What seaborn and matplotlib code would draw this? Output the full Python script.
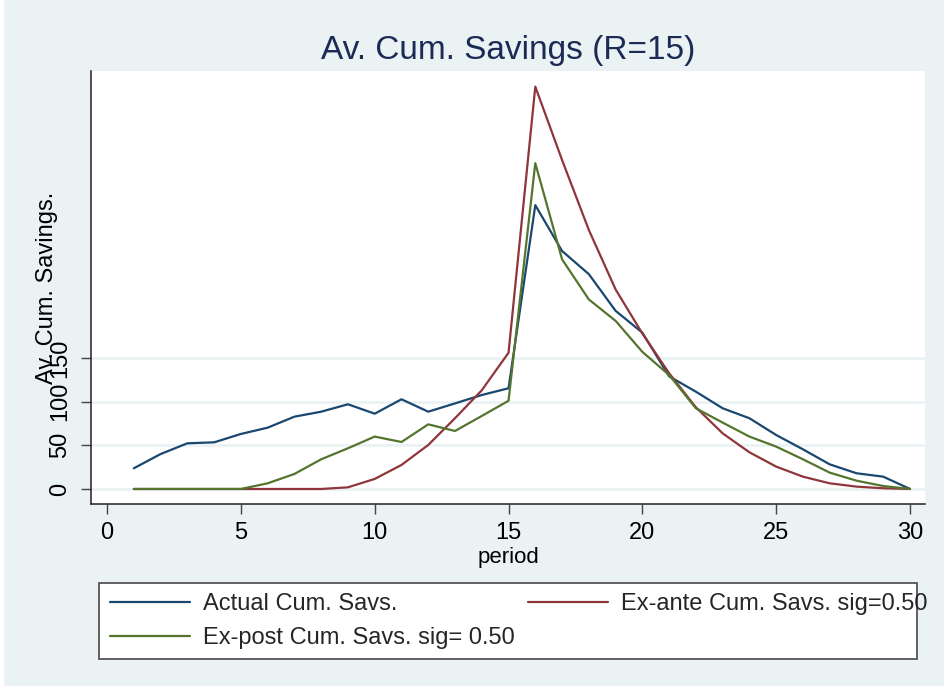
import numpy as np
import pandas as pd
import matplotlib
matplotlib.use("Agg")
import matplotlib.pyplot as plt
from matplotlib.patches import Rectangle
import seaborn as sns

# Average cumulative savings by period
period = list(range(1, 31))
actual = [23.7, 40, 52.3, 53.4, 63, 70.2, 82.8, 88.5, 97, 86.2,
          102.7, 88.5, 98, 107.6, 115.3, 325, 272.5, 246, 204, 179,
          129, 111.4, 92.4, 81, 61.8, 45.4, 28.2, 18, 14.1, 0]
ex_ante = [0, 0, 0, 0, 0, 0, 0, 0, 1.9, 11.5,
           27.5, 50.4, 81, 113, 156, 460.7, 376.7, 296.6, 228.5, 178,
           132.5, 93.5, 63.7, 42, 25.6, 14.1, 6.5, 2.7, 0.8, 0]
ex_post = [0, 0, 0, 0, 0, 6.5, 17.2, 34, 46.6, 60,
           53.8, 74, 66.4, 83.6, 101, 373, 263, 217, 192.5, 157,
           130.5, 92.4, 76, 60, 48.5, 34, 18.7, 9.5, 3.4, 0]

series_names = ["Actual Cum. Savs.",
                "Ex-ante Cum. Savs. sig=0.50",
                "Ex-post Cum. Savs. sig= 0.50"]
series_colors = ["#1A476F", "#90353B", "#55752F"]
y_ticks = [0, 50, 100, 150]
x_ticks = [0, 5, 10, 15, 20, 25, 30]

df = pd.DataFrame({
    "period": period * 3,
    "value": actual + ex_ante + ex_post,
    "series": np.repeat(series_names, len(period)),
})

sns.set_theme(style="white")
plt.rcParams["font.family"] = ["Liberation Sans", "DejaVu Sans"]

BG = "#EAF2F3"
fig = plt.figure(figsize=(9.44, 6.91), dpi=100, facecolor="white")
fig.patches.append(Rectangle((4 / 944, 5 / 691), 1 - 4 / 944, 1 - 5 / 691,
                             transform=fig.transFigure, facecolor=BG,
                             edgecolor="none", zorder=-10))

ax = fig.add_axes([91 / 944, 1 - 504 / 691, 834 / 944, 433 / 691])
ax.set_facecolor("white")

sns.lineplot(data=df, x="period", y="value", hue="series",
             hue_order=series_names, palette=series_colors,
             linewidth=1.6, ax=ax, legend=False)

ax.set_xlim(-0.6, 30.56)
ax.set_ylim(-17.2, 478.6)
ax.set_xticks(x_ticks)
ax.set_yticks(y_ticks)
ax.set_yticklabels([str(v) for v in y_ticks], rotation=90, va="center")

for v in y_ticks:
    ax.axhline(v, color=BG, linewidth=2, zorder=0)

for side in ["top", "right"]:
    ax.spines[side].set_visible(False)
for side in ["left", "bottom"]:
    ax.spines[side].set_color("#222222")
    ax.spines[side].set_linewidth(1.1)

ax.tick_params(axis="both", which="major", direction="out", length=7,
               width=1.0, color="#444444", labelsize=17, labelcolor="black",
               left=True, bottom=True)
ax.tick_params(axis="y", pad=7)
ax.tick_params(axis="x", pad=6)

ax.set_xlabel("period", fontsize=16, color="black", labelpad=2)
ax.set_ylabel("Av. Cum. Savings.", fontsize=17, color="black")
ax.yaxis.set_label_coords(-0.039, 0.5)

ax.set_title("Av. Cum. Savings (R=15)", fontsize=24, color="#1C2B55", pad=9)

# Legend box
fig.patches.append(Rectangle((99 / 944, 1 - 659 / 691), 818 / 944, 76 / 691,
                             transform=fig.transFigure, facecolor="white",
                             edgecolor="#555555", linewidth=1.3, zorder=1))
lines = ax.get_lines()
handles = [lines[0], lines[2], lines[1]]
labels = [series_names[0], series_names[2], series_names[1]]
fig.legend(handles, labels, ncol=2, frameon=False, loc="upper left",
           bbox_to_anchor=(110 / 944, 1 - 593 / 691), borderpad=0,
           borderaxespad=0, fontsize=17,
           handlelength=3.39, handletextpad=0.55, columnspacing=0.55,
           labelspacing=0.5)

fig.savefig("out.png", dpi=100, facecolor=fig.get_facecolor())
